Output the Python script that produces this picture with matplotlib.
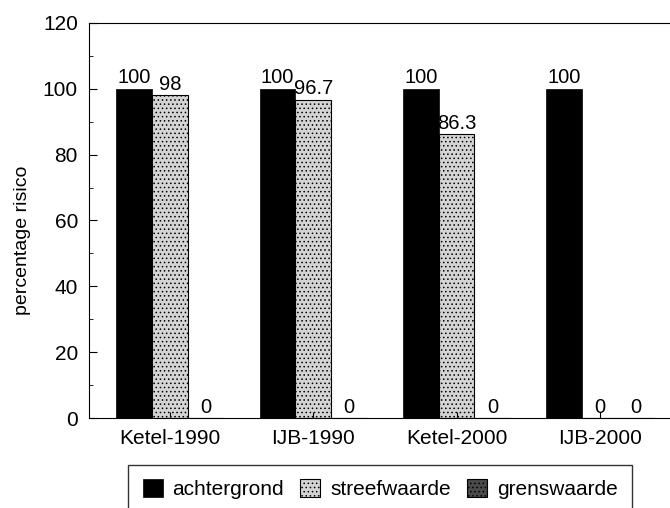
import matplotlib
matplotlib.use('Agg')
import matplotlib.pyplot as plt
from matplotlib.ticker import MultipleLocator

plt.rcParams['font.family'] = ['Liberation Sans', 'DejaVu Sans']
plt.rcParams['hatch.linewidth'] = 0.6

locations = ['Ketel-1990', 'IJB-1990', 'Ketel-2000', 'IJB-2000']
achtergrond = [100, 100, 100, 100]
streefwaarde = [98, 96.7, 86.3, 0]
grenswaarde = [0, 0, 0, 0]
series_names = ['achtergrond', 'streefwaarde', 'grenswaarde']

fig = plt.figure(figsize=(6.7, 5.08), dpi=100)
ax = fig.add_axes([0.133, 0.177, 0.867, 0.778])

w = 0.25
x = list(range(len(locations)))
b1 = ax.bar([i - w for i in x], achtergrond, w, color='black', edgecolor='black', linewidth=0.5,
            label=series_names[0])
b2 = ax.bar(x, streefwaarde, w, color='#d4d4d4', edgecolor='black', linewidth=0.8,
            hatch='....', label=series_names[1])
b3 = ax.bar([i + w for i in x], grenswaarde, w, color='#4a4a4a', edgecolor='black', linewidth=0.8,
            hatch='....', label=series_names[2])

for bars, vals in [(b1, achtergrond), (b2, streefwaarde), (b3, grenswaarde)]:
    for rect, v in zip(bars, vals):
        ax.text(rect.get_x() + rect.get_width() / 2, v + 0.4, f'{v:g}',
                ha='center', va='bottom', fontsize=14.5)

ax.set_xlim(-0.565, 3.49)
ax.set_ylim(0, 120)
ax.set_xticks(x)
ax.set_xticklabels(locations, fontsize=15)
ax.yaxis.set_major_locator(MultipleLocator(20))
ax.yaxis.set_minor_locator(MultipleLocator(10))
ax.tick_params(axis='both', direction='in')
ax.tick_params(axis='y', which='major', length=6, labelsize=15, pad=8)
ax.tick_params(axis='y', which='minor', length=3, direction='in')
ax.tick_params(axis='x', length=4, pad=8)
ax.set_ylabel('percentage risico', fontsize=14)
ax.yaxis.set_label_coords(-0.1, 0.45)
ax.spines['right'].set_visible(False)

leg = fig.legend(loc='upper left', bbox_to_anchor=(0.191, 0.085), ncol=3, fontsize=15,
                 frameon=True, fancybox=False, edgecolor='black', handlelength=0.96,
                 handleheight=0.9, handletextpad=0.48, columnspacing=0.77,
                 borderpad=0.7, borderaxespad=0)
leg.get_frame().set_linewidth(1.0)

fig.savefig('out.png', dpi=100)
